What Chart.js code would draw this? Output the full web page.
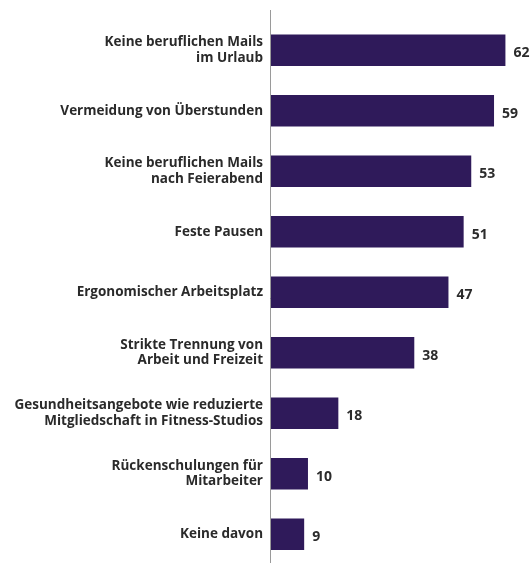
<!DOCTYPE html>
<html>
<head>
<meta charset="utf-8">
<script src="https://cdn.jsdelivr.net/npm/chart.js@4"></script>
<style>
  html, body { margin: 0; padding: 0; background: #fff; overflow: hidden; }
  #wrap { width: 532px; height: 587px; position: relative; }
</style>
</head>
<body>
<div id="wrap"><canvas id="chart"></canvas></div>
<script>
// Kategorien und Werte
const categories = [
    ['Keine beruflichen Mails', 'im Urlaub'],
    'Vermeidung von Überstunden',
    ['Keine beruflichen Mails', 'nach Feierabend'],
    'Feste Pausen',
    'Ergonomischer Arbeitsplatz',
    ['Strikte Trennung von', 'Arbeit und Freizeit'],
    ['Gesundheitsangebote wie reduzierte', 'Mitgliedschaft in Fitness-Studios'],
    ['Rückenschulungen für', 'Mitarbeiter'],
    'Keine davon'
];
const values = [62, 59, 53, 51, 47, 38, 18, 10, 9];

const barColor = '#2f1a5a';

// Werte rechts neben den Balken
const valueLabels = {
    id: 'valueLabels',
    afterDatasetsDraw(chart) {
        const ctx = chart.ctx;
        const meta = chart.getDatasetMeta(0);
        ctx.save();
        ctx.font = 'bold 14px "Open Sans", sans-serif';
        ctx.fillStyle = '#2b2b2b';
        ctx.textAlign = 'left';
        ctx.textBaseline = 'middle';
        meta.data.forEach((bar, i) => {
            ctx.fillText(values[i], bar.x + 8, bar.y + 3);
        });
        ctx.restore();
    }
};

// senkrechte Achsenlinie
const axisLine = {
    id: 'axisLine',
    afterDraw(chart) {
        const ctx = chart.ctx;
        const x = Math.round(chart.chartArea.left) + 0.5;
        ctx.save();
        ctx.strokeStyle = '#9a9a9a';
        ctx.lineWidth = 1;
        ctx.beginPath();
        ctx.moveTo(x, 10);
        ctx.lineTo(x, chart.height);
        ctx.stroke();
        ctx.restore();
    }
};

new Chart(document.getElementById('chart'), {
    type: 'bar',
    data: {
        labels: categories,
        datasets: [{
            data: values,
            backgroundColor: barColor,
            barPercentage: 0.52,
            categoryPercentage: 1.0
        }]
    },
    options: {
        indexAxis: 'y',
        responsive: true,
        maintainAspectRatio: false,
        animation: false,
        layout: { padding: { top: 20, right: 0, bottom: 0, left: 0 } },
        plugins: {
            legend: { display: false },
            tooltip: { enabled: false }
        },
        scales: {
            x: {
                display: false,
                min: 0,
                max: 69
            },
            y: {
                afterFit(scale) { scale.width = 270; },
                grid: { display: false, drawTicks: false },
                border: { display: false },
                ticks: {
                    color: '#2a2a2a',
                    padding: 7,
                    font: { family: '"Open Sans", sans-serif', size: 13.5, weight: 'bold', lineHeight: 1.15 }
                }
            }
        }
    },
    plugins: [valueLabels, axisLine]
});
</script>
</body>
</html>
